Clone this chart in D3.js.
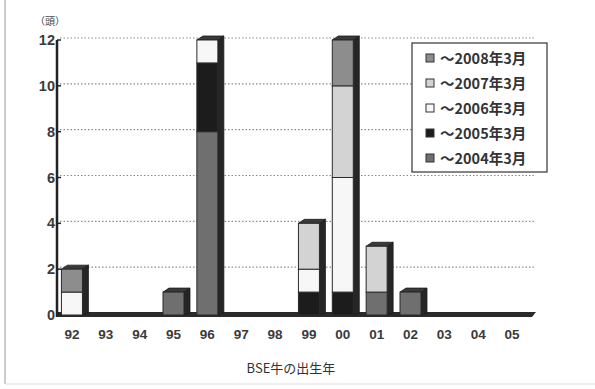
<!DOCTYPE html>
<html>
<head>
<meta charset="utf-8">
<script src="https://cdn.jsdelivr.net/npm/d3@7"></script>
<style>
  body { margin: 0; background: #fff; }
  svg { display: block; }
  text { font-family: "Liberation Sans", "Noto Sans CJK JP", sans-serif; }
</style>
</head>
<body>
<div id="chart"></div>
<script>
// BSE cases by birth year, stacked by period of detection
const years = ['92', '93', '94', '95', '96', '97', '98', '99', '00', '01', '02', '03', '04', '05'];
const seriesKeys = ['2004', '2005', '2006', '2007', '2008'];
const seriesLabels = ['～2004年3月', '～2005年3月', '～2006年3月', '～2007年3月', '～2008年3月'];
const seriesColors = ['#6f6f6f', '#1c1c1c', '#f7f7f7', '#d3d3d3', '#8d8d8d'];
const v2004 = [0, 0, 0, 1, 8, 0, 0, 0, 0, 1, 1, 0, 0, 0];
const v2005 = [0, 0, 0, 0, 3, 0, 0, 1, 1, 0, 0, 0, 0, 0];
const v2006 = [1, 0, 0, 0, 1, 0, 0, 1, 5, 0, 0, 0, 0, 0];
const v2007 = [0, 0, 0, 0, 0, 0, 0, 2, 4, 2, 0, 0, 0, 0];
const v2008 = [1, 0, 0, 0, 0, 0, 0, 0, 2, 0, 0, 0, 0, 0];
const yTicks = [0, 2, 4, 6, 8, 10, 12];

const W = 595, H = 389;
const svg = d3.select('#chart').append('svg').attr('width', W).attr('height', H);

// frame lines of the scanned page
svg.append('line').attr('x1', 5).attr('x2', 5).attr('y1', 0).attr('y2', 384)
  .attr('stroke', '#bbb').attr('stroke-width', 1.5);
svg.append('line').attr('x1', 5).attr('x2', 595).attr('y1', 384).attr('y2', 384)
  .attr('stroke', '#ddd').attr('stroke-width', 1);

const x = d3.scaleBand().domain(years).range([55, 529]).paddingInner(0.38).paddingOuter(0.19);
const y = d3.scaleLinear().domain([0, 12]).range([315, 40]);
const depthX = 6, depthY = 4;

// dotted gridlines
svg.append('g').selectAll('line')
  .data(yTicks.filter(t => t > 0))
  .enter().append('line')
  .attr('x1', 60).attr('x2', 536)
  .attr('y1', d => y(d) - 2).attr('y2', d => y(d) - 2)
  .attr('stroke', '#8a8a8a').attr('stroke-width', 1.2)
  .attr('stroke-dasharray', '1.5,2');

// stacked data
const rows = years.map((yr, i) => ({
  year: yr, '2004': v2004[i], '2005': v2005[i], '2006': v2006[i], '2007': v2007[i], '2008': v2008[i]
}));
const stacked = d3.stack().keys(seriesKeys)(rows);
const color = d3.scaleOrdinal().domain(seriesKeys).range(seriesColors);

// floor
const x0 = 57, x1 = 532;
svg.append('path')
  .attr('d', `M${x0},${y(0) - 3} L${x1 + 4},${y(0) - 3} L${x1},${y(0) + 2} L${x0},${y(0) + 2} Z`)
  .attr('fill', '#2a2a2a');

// bars: side and top faces first
const totals = rows.map(r => seriesKeys.reduce((s, k) => s + r[k], 0));
const bars = svg.append('g');
rows.forEach((r, i) => {
  const t = totals[i];
  if (!t) return;
  const bx = x(r.year), bw = x.bandwidth();
  const top = y(t), bot = y(0);
  bars.append('path')
    .attr('d', `M${bx + bw},${top} L${bx + bw + depthX},${top - depthY} L${bx + bw + depthX},${bot - 2} L${bx + bw},${bot} Z`)
    .attr('fill', '#262626').attr('stroke', '#1a1a1a').attr('stroke-width', 0.8);
  bars.append('path')
    .attr('d', `M${bx},${top} L${bx + depthX},${top - depthY} L${bx + bw + depthX},${top - depthY} L${bx + bw},${top} Z`)
    .attr('fill', '#3a3a3a').attr('stroke', '#1a1a1a').attr('stroke-width', 0.8);
});

// front faces
svg.append('g').selectAll('g')
  .data(stacked)
  .enter().append('g')
  .attr('fill', d => color(d.key))
  .selectAll('rect')
  .data(d => d.filter(s => s[1] > s[0]))
  .enter().append('rect')
  .attr('x', d => x(d.data.year))
  .attr('y', d => y(d[1]))
  .attr('width', x.bandwidth())
  .attr('height', d => y(d[0]) - y(d[1]))
  .attr('stroke', '#2a2a2a').attr('stroke-width', 1);

// y axis
svg.append('line').attr('x1', 57).attr('x2', 57).attr('y1', y(12)).attr('y2', y(0) + 2)
  .attr('stroke', '#222').attr('stroke-width', 2.5);
const yAxis = svg.append('g');
yAxis.selectAll('line')
  .data(yTicks).enter().append('line')
  .attr('x1', 57).attr('x2', 61)
  .attr('y1', d => y(d)).attr('y2', d => y(d))
  .attr('stroke', '#222').attr('stroke-width', 1.5);
yAxis.selectAll('text')
  .data(yTicks).enter().append('text')
  .attr('x', 55).attr('y', d => y(d) + 5)
  .attr('text-anchor', 'end')
  .attr('font-size', 14.5).attr('font-weight', 'bold').attr('fill', '#3a3a3a')
  .text(d => d);
svg.append('text').attr('x', 35).attr('y', 25)
  .attr('font-size', 10).attr('fill', '#444')
  .style('font-family', '"Noto Sans CJK JP", sans-serif')
  .text('（頭）');

// x labels
svg.append('g').selectAll('text')
  .data(years).enter().append('text')
  .attr('x', d => x(d) + x.bandwidth() / 2)
  .attr('y', 339)
  .attr('text-anchor', 'middle')
  .attr('font-size', 13.5).attr('font-weight', 'bold').attr('fill', '#3a3a3a')
  .text(d => d);

svg.append('text').attr('x', 291).attr('y', 373)
  .attr('text-anchor', 'middle')
  .attr('font-size', 13).attr('fill', '#333')
  .style('font-family', '"Noto Sans CJK JP", sans-serif')
  .text('BSE牛の出生年');

// legend (newest on top)
const legend = svg.append('g');
legend.append('rect').attr('x', 412).attr('y', 43).attr('width', 135).attr('height', 129)
  .attr('fill', '#fff').attr('stroke', '#333').attr('stroke-width', 1.2);
const order = seriesKeys.map((k, i) => i).reverse();
order.forEach((si, j) => {
  const ly = 58 + j * 25;
  legend.append('rect').attr('x', 426).attr('y', ly - 4).attr('width', 8).attr('height', 8)
    .attr('fill', seriesColors[si]).attr('stroke', '#333').attr('stroke-width', 1);
  legend.append('text').attr('x', 440).attr('y', ly + 5.5)
    .attr('font-size', 14.5).attr('font-weight', 'bold').attr('fill', '#333')
    .style('font-family', '"Noto Sans CJK JP", sans-serif')
    .text(seriesLabels[si]);
});
</script>
</body>
</html>
